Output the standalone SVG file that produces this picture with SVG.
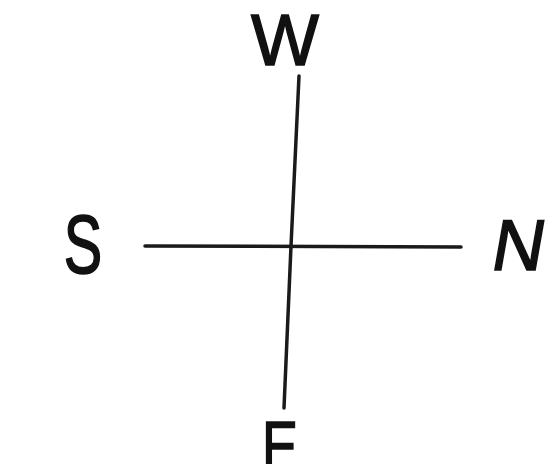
<svg xmlns="http://www.w3.org/2000/svg" width="553" height="464" viewBox="0 0 553 464">
<style>
.lbl{font-family:"Liberation Sans",Arial,sans-serif;font-size:72px;fill:#111;stroke:#111;stroke-width:1.5;text-anchor:middle}
.ln{stroke:#1a1a1a;stroke-width:3.5;stroke-linecap:round;fill:none}
</style>
<rect width="553" height="464" fill="#ffffff"/>
<g id="connectors">
<path class="ln" d="M145,246 L461,247"/>
<path class="ln" d="M299,76 L291,246 L284,408"/>
</g>
<g id="W"><text class="lbl" x="285" y="65">W</text></g>
<g id="S"><text class="lbl" transform="translate(83,273) scale(0.8,1.15)" x="0" y="0">S</text></g>
<g id="N"><text class="lbl" transform="translate(515,270) skewX(-10)" x="0" y="0">N</text></g>
<g id="E"><text class="lbl" transform="translate(280,472) scale(0.75,1)" x="0" y="0">E</text></g>
</svg>
